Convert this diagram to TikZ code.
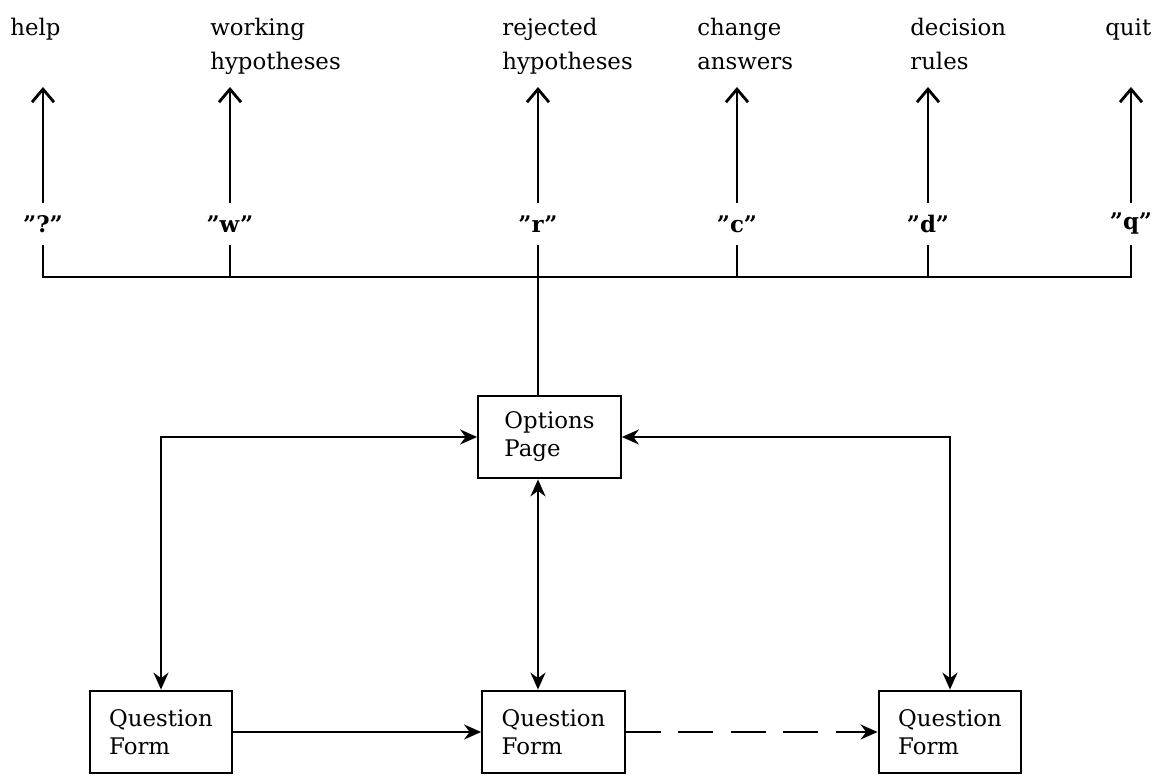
\documentclass[tikz,border=0pt]{standalone}
\usepackage{fontspec}
\setmainfont{DejaVu Serif}
\usetikzlibrary{arrows.meta}

\tikzset{
  lbl/.style={anchor=north west, inner sep=0pt, align=left, font=\fontsize{13}{19.3}\selectfont},
  key/.style={inner sep=0pt, minimum height=0.84cm, font=\fontsize{13}{16}\selectfont\bfseries},
  page/.style={draw, line width=1.3pt, minimum width=2.85cm, minimum height=1.65cm, align=left, font=\fontsize{13}{16}\selectfont},
  up/.style={-{Straight Barb[length=2.6mm,width=4.4mm,line width=1.6pt]}, line width=1.4pt},
  both/.style={{Stealth[length=3.4mm,width=3mm]}-{Stealth[length=3.4mm,width=3mm]}, line width=1.3pt},
  fwd/.style={-{Stealth[length=3.4mm,width=3mm]}, line width=1.3pt}
}

\begin{document}
\begin{tikzpicture}

\useasboundingbox (0,0) rectangle (23.08,15.56);

% menu choices
\node[lbl] (lhelp) at (0.2, 15.2) {help};
\node[lbl] (lwork) at (4.2, 15.2) {working\\hypotheses};
\node[lbl] (lrej) at (10.04, 15.2) {rejected\\hypotheses};
\node[lbl] (lchg) at (13.94, 15.2) {change\\answers};
\node[lbl] (ldec) at (18.2, 15.2) {decision\\rules};
\node[lbl] (lquit) at (22.1, 15.2) {quit};

% keys
\node[key] (khelp) at (0.86, 11.08) {''?''};
\node[key] (kwork) at (4.6, 11.08) {''w''};
\node[key] (krej) at (10.76, 11.08) {''r''};
\node[key] (kchg) at (14.74, 11.08) {''c''};
\node[key] (kdec) at (18.56, 11.08) {''d''};
\node[key] (kquit) at (22.62, 11.08) {''q''};

\coordinate (tip) at (0, 13.82);
\coordinate (bus) at (0, 10.02);

\draw[up] (khelp.north) -- (khelp.north |- tip);
\draw[up] (kwork.north) -- (kwork.north |- tip);
\draw[up] (krej.north) -- (krej.north |- tip);
\draw[up] (kchg.north) -- (kchg.north |- tip);
\draw[up] (kdec.north) -- (kdec.north |- tip);
\draw[up] (kquit.north) -- (kquit.north |- tip);

% pages
\node[page] (opt) at (10.99, 6.82) {Options\\Page};
\node[page] (qf1) at (3.22, 0.92) {Question\\Form};
\node[page] (qf2) at (11.07, 0.92) {Question\\Form};
\node[page] (qf3) at (19.0, 0.92) {Question\\Form};

% bus line
\draw[line width=1.3pt] (khelp.south) -- (khelp.south |- bus) -- (kquit.south |- bus) -- (kquit.south);
\draw[line width=1.3pt] (kwork.south) -- (kwork.south |- bus);
\draw[line width=1.3pt] (kchg.south) -- (kchg.south |- bus);
\draw[line width=1.3pt] (kdec.south) -- (kdec.south |- bus);
\draw[line width=1.3pt] (krej.south) -- (opt.north -| krej.south);

\draw[both] (opt.west) -| (qf1.north);
\draw[both] (opt.east) -| (qf3.north);
\draw[both] (opt.south -| krej) -- (qf2.north -| krej);

\draw[fwd] (qf1.east) -- (qf2.west);
\draw[fwd, dash pattern=on 0.7cm off 0.35cm] (qf2.east) -- (qf3.west);

\end{tikzpicture}
\end{document}
